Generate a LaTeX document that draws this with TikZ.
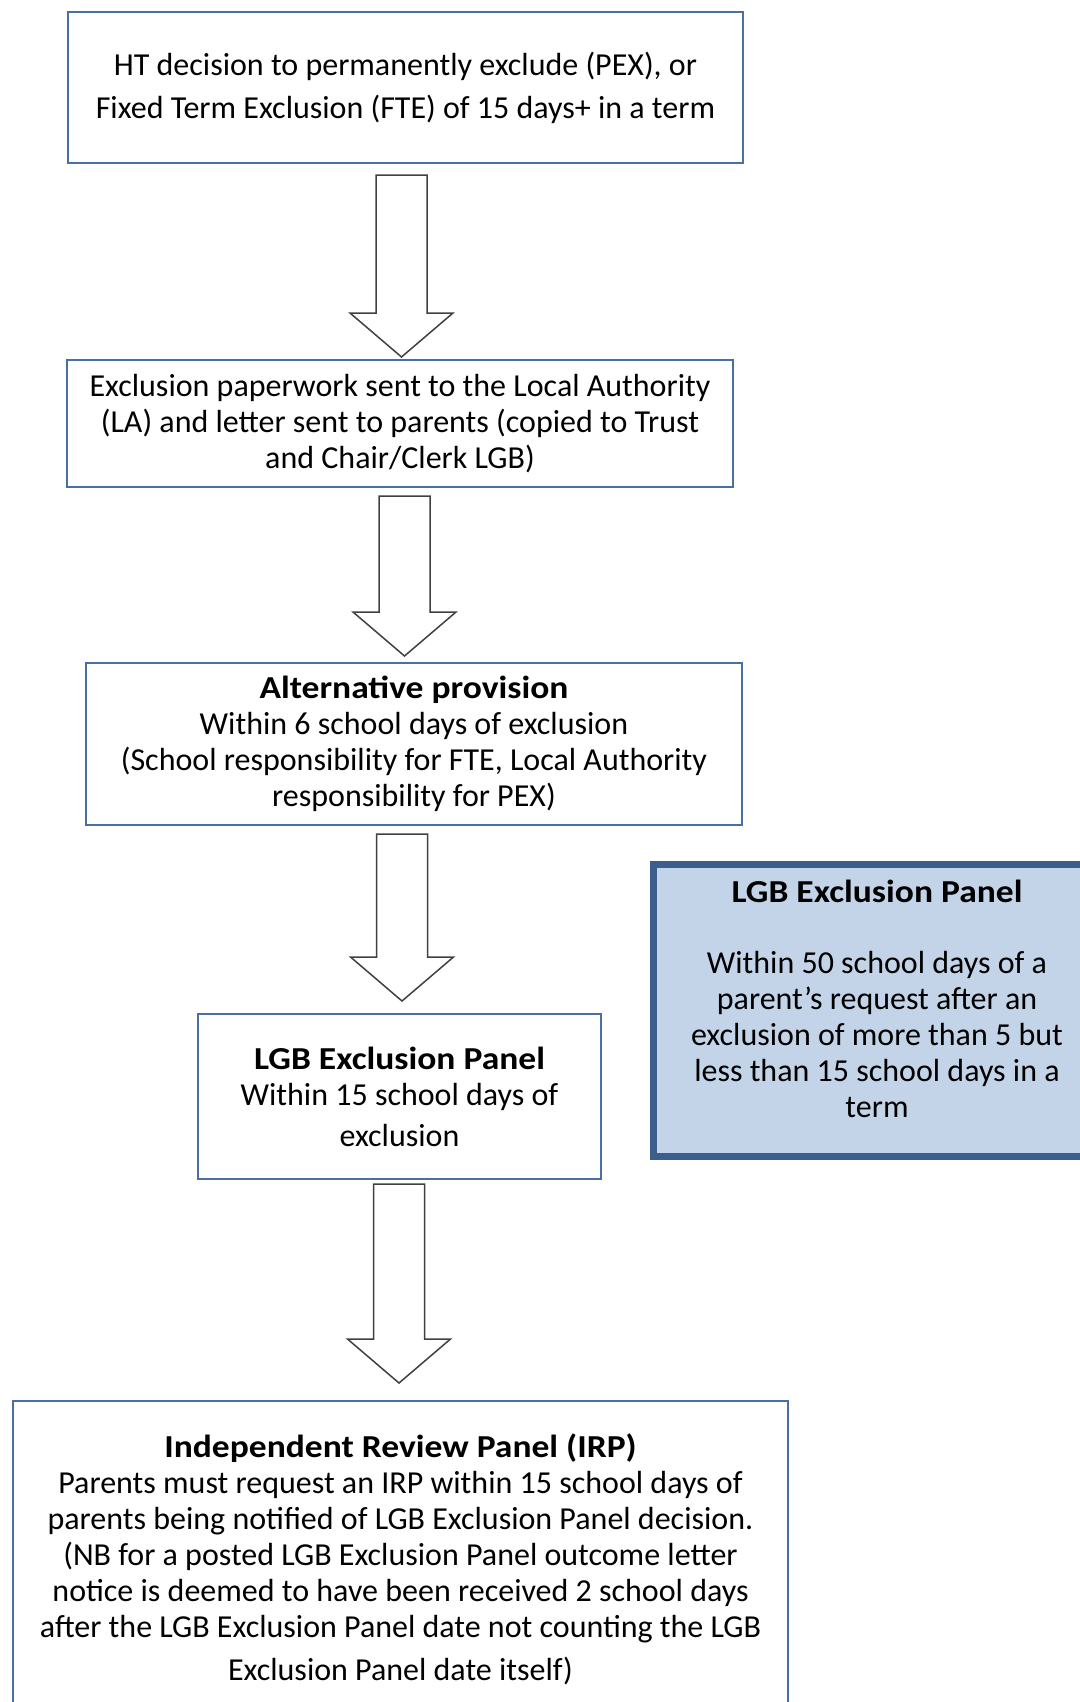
\documentclass[tikz,border=0pt]{standalone}
\usepackage{fontspec}
\setmainfont{Carlito}[BoldFeatures={FakeStretch=1.11}]
\usetikzlibrary{calc}

\definecolor{boxblue}{HTML}{4A6EA8}
\definecolor{panelfill}{HTML}{C3D3E8}
\definecolor{paneldraw}{HTML}{3C5E8C}
\definecolor{arrowgray}{HTML}{404040}

\tikzset{
  stage/.style={draw=boxblue, line width=1pt, fill=white, align=center,
    inner sep=0pt, font=\fontsize{16}{18}\selectfont},
  panel/.style={stage, draw=paneldraw, fill=panelfill, line width=3.5pt},
  paneltext/.style={align=center, inner sep=0pt, font=\fontsize{16}{18}\selectfont},
  arrowline/.style={draw=arrowgray, line width=0.75pt, fill=white, line join=miter},
}

% block arrow: from node, to node, x, gap at top, gap at tip
\newcommand{\blockarrow}[5]{%
  \path (#3,0) coordinate (ax)
    (ax |- #1.south) ++(0,#4) coordinate (atop)
    (ax |- #2.north) ++(0,-#5) coordinate (atip);
  \draw[arrowline] ($(atop)+(-25.5,0)$) -- ($(atop)+(25.5,0)$)
    -- ($(atip)+(25.5,-44)$) -- ($(atip)+(51.5,-44)$) -- (atip)
    -- ($(atip)+(-51.5,-44)$) -- ($(atip)+(-25.5,-44)$) -- cycle;
}

\begin{document}
\begin{tikzpicture}[x=0.5pt, y=-0.5pt]
\useasboundingbox (0,0) rectangle (1080,1702);
\clip (0,0) rectangle (1080,1702);

\node[stage, minimum width=337.5pt, minimum height=75.5pt] (ht) at (405.5,87.5)
  {HT decision to permanently exclude (PEX), or\\[3.5pt]
   Fixed Term Exclusion (FTE) of 15 days+ in a term};
\node[stage, minimum width=333pt, minimum height=63.5pt] (paper) at (400,423.5)
  {Exclusion paperwork sent to the Local Authority\\
   (LA) and letter sent to parents (copied to Trust\\
   and Chair/Clerk LGB)};
\node[stage, minimum width=328pt, minimum height=81pt] (alt) at (414,744)
  {\textbf{Alternative provision}\\
   Within 6 school days of exclusion\\
   (School responsibility for FTE, Local Authority\\
   responsibility for PEX)};
\node[stage, minimum width=201.5pt, minimum height=82.5pt] (lgb) at (399.5,1096.5)
  {\textbf{LGB Exclusion Panel}\\
   Within 15 school days of\\[2.5pt]
   exclusion};
\node[stage, anchor=north, minimum width=387.5pt, minimum height=158pt] (irp) at (400.5,1400)
  {\textbf{Independent Review Panel (IRP)}\\
   Parents must request an IRP within 15 school days of\\
   parents being notified of LGB Exclusion Panel decision.\\
   (NB for a posted LGB Exclusion Panel outcome letter\\
   notice is deemed to have been received 2 school days\\
   after the LGB Exclusion Panel date not counting the LGB\\[3.5pt]
   Exclusion Panel date itself)};
\node[panel, minimum width=223.75pt, minimum height=146pt] (short) at (877,1010.5) {};
\node[paneltext] (shorttext) at (877,999)
  {\textbf{LGB Exclusion Panel}\\[17.5pt]
   Within 50 school days of a\\
   parent's request after an\\
   exclusion of more than 5 but\\
   less than 15 school days in a\\
   term};

\blockarrow{ht}{paper}{401.5}{11}{2}
\blockarrow{paper}{alt}{404.5}{8}{6}
\blockarrow{alt}{lgb}{402}{8}{12}
\blockarrow{lgb}{irp}{399}{4}{17}
\end{tikzpicture}
\end{document}
